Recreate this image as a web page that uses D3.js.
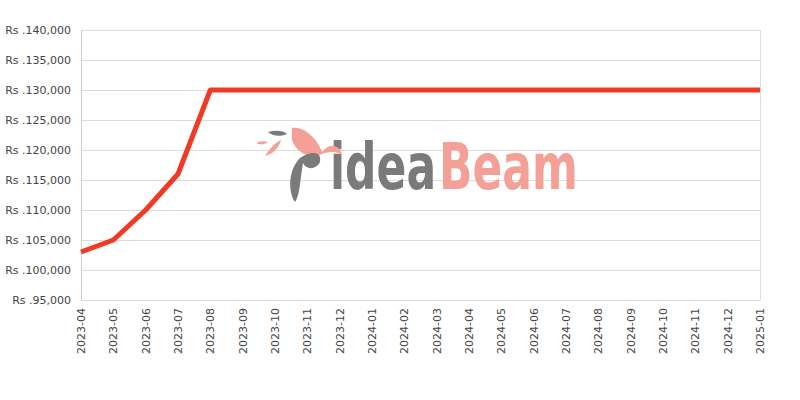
<!DOCTYPE html>
<html><head><meta charset="utf-8">
<script src="https://cdn.jsdelivr.net/npm/d3@7"></script>
<style>body{margin:0;background:#fff}svg{display:block}</style>
</head><body><svg id="c" width="800" height="400"></svg>
<script>
const months = ["2023-04","2023-05","2023-06","2023-07","2023-08","2023-09","2023-10","2023-11","2023-12","2024-01","2024-02","2024-03","2024-04","2024-05","2024-06","2024-07","2024-08","2024-09","2024-10","2024-11","2024-12","2025-01"];
const prices = [103000,105000,110000,116000,130000,130000,130000,130000,130000,130000,130000,130000,130000,130000,130000,130000,130000,130000,130000,130000,130000,130000];
const yTicks = [95000,100000,105000,110000,115000,120000,125000,130000,135000,140000];

const svg = d3.select("#c");
const L=81,R=760,T=30,B=300;
const x = d3.scalePoint().domain(months).range([L,R]);
const y = d3.scaleLinear().domain([95000,140000]).range([B,T]);
const font = "DejaVu Sans, sans-serif";

// grid
svg.append("g").selectAll("line").data(yTicks).join("line")
  .attr("x1",L).attr("x2",R).attr("y1",d=>y(d)+0.5).attr("y2",d=>y(d)+0.5)
  .attr("stroke","#dcdcdc").attr("stroke-width",1);
svg.append("line").attr("x1",L+0.5).attr("x2",L+0.5).attr("y1",T).attr("y2",B+0.5).attr("stroke","#d0d0d0");
svg.append("line").attr("x1",R+0.5).attr("x2",R+0.5).attr("y1",T).attr("y2",B+0.5).attr("stroke","#dcdcdc");

// y labels
svg.append("g").selectAll("text").data(yTicks).join("text")
  .attr("x",L-10).attr("y",d=>y(d)+4)
  .attr("text-anchor","end").attr("font-family",font).attr("font-size",11).attr("fill","#444")
  .text(d=>"Rs ."+d3.format(",")(d));

// x labels
svg.append("g").selectAll("text").data(months).join("text")
  .attr("transform",d=>`translate(${x(d)+4},${B+8}) rotate(-90)`)
  .attr("text-anchor","end").attr("font-family",font).attr("font-size",11).attr("fill","#444")
  .text(d=>d);

// watermark
const wm = svg.append("g");
wm.append("text").attr("transform","translate(330,189) scale(1,1.45)").attr("font-family",font).attr("font-size",44).attr("font-weight","bold")
  .attr("fill","#7a7a7a").text("idea");
wm.append("text").attr("transform","translate(439,189) scale(1,1.45)").attr("font-family",font).attr("font-size",44).attr("font-weight","bold")
  .attr("fill","#f4a097").text("Beam");
// simple bird shapes
wm.append("path").attr("d","M292,128 C305,126 318,140 322,152 C330,142 340,145 342,155 C335,150 325,152 318,156 C308,158 296,152 292,140 Z").attr("fill","#f4a097");
wm.append("path").attr("d","M300,158 C312,150 322,152 320,162 C316,170 306,170 303,163 C300,180 300,195 295,202 C288,192 288,170 300,158 Z").attr("fill","#7a7a7a");
wm.append("path").attr("d","M268,132 C275,130 283,130 287,134 C280,137 272,136 268,132 Z").attr("fill","#7a7a7a");
wm.append("path").attr("d","M265,156 C270,148 276,142 281,140 C279,148 273,154 265,156 Z").attr("fill","#f4a097");
wm.append("path").attr("d","M256,143 C260,141 265,141 268,142 C264,145 260,145 256,143 Z").attr("fill","#f4a097");

// line
svg.append("path").datum(months.map((m,i)=>[m,prices[i]]))
  .attr("fill","none").attr("stroke","#f03a25").attr("stroke-width",5).attr("stroke-linejoin","round")
  .attr("d",d3.line().x(d=>x(d[0])).y(d=>y(d[1])));
</script></body></html>
